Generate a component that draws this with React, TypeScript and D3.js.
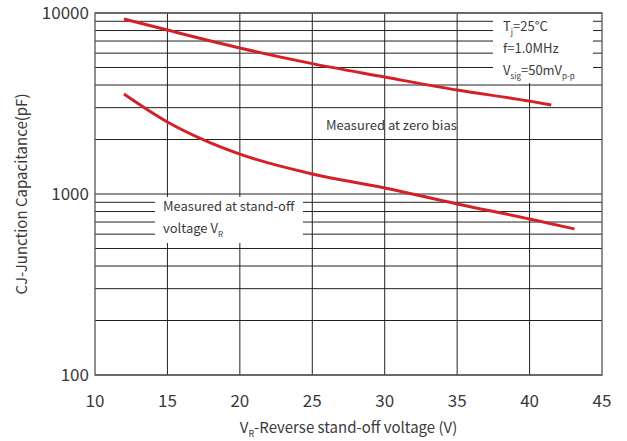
import React from "react";
import * as d3 from "d3";

const zeroBiasV = [12, 15, 20, 25, 30, 35, 40, 41.5];
const zeroBiasC = [9270, 8050, 6410, 5250, 4430, 3750, 3260, 3100];
const standOffV = [12, 15, 17.5, 20, 25, 30, 35, 40, 43.1];
const standOffC = [3570, 2500, 1990, 1660, 1290, 1080, 881, 728, 641];
const xTicks = [10, 15, 20, 25, 30, 35, 40, 45];
const yTicks = [100, 1000, 10000];

const W = 627, H = 441;
const left = 95, right = 602, top = 13, bottom = 375;
const FONT = "'Noto Sans CJK SC', 'Noto Sans', sans-serif";
const TXT = "#3a3a3a";

export default function App() {
  const x = d3.scaleLinear().domain([10, 45]).range([left, right]);
  const y = d3.scaleLog().domain([100, 10000]).range([bottom, top]);
  const minor: number[] = [];
  for (const dec of [100, 1000]) for (let k = 2; k <= 9; k++) minor.push(dec * k);
  const line = d3
    .line<[number, number]>()
    .x((d) => x(d[0]))
    .y((d) => y(d[1]))
    .curve(d3.curveMonotoneX);
  const zb = zeroBiasV.map((v, i) => [v, zeroBiasC[i]] as [number, number]);
  const so = standOffV.map((v, i) => [v, standOffC[i]] as [number, number]);

  return (
    <svg width={W} height={H} style={{ position: "absolute", left: 0, top: 0, background: "#fff" }} fontFamily={FONT}>
      {[...minor, ...yTicks].map((v) => (
        <line key={"h" + v} x1={left} x2={right} y1={y(v)} y2={y(v)} stroke="#222" strokeWidth={1} />
      ))}
      {xTicks.slice(1, -1).map((v) => (
        <line key={"v" + v} x1={x(v)} x2={x(v)} y1={top} y2={bottom} stroke="#222" strokeWidth={1} />
      ))}
      <rect x={left} y={top} width={right - left} height={bottom - top} fill="none" stroke="#555" strokeWidth={1.3} />

      <rect x={493} y={top + 1} width={100} height={69} fill="#fff" />
      <rect x={155} y={197} width={148} height={46} fill="#fff" />

      <path d={line(zb) || ""} fill="none" stroke="#d42128" strokeWidth={3} />
      <path d={line(so) || ""} fill="none" stroke="#d42128" strokeWidth={3} />

      <g fill={TXT} fontSize={13}>
        <text x={503} y={31}>
          T<tspan fontSize={8} dy={4}>j</tspan>
          <tspan dy={-4}>=25°C</tspan>
        </text>
        <text x={503} y={53}>f=1.0MHz</text>
        <text x={503} y={75}>
          V<tspan fontSize={8} dy={4}>sig</tspan>
          <tspan dy={-4}>=50mV</tspan>
          <tspan fontSize={8} dy={4}>p-p</tspan>
        </text>
        <text x={326} y={130}>Measured at zero bias</text>
        <text x={163} y={211}>Measured at stand-off</text>
        <text x={163} y={233}>
          voltage V<tspan fontSize={8} dy={4}>R</tspan>
        </text>
      </g>

      <g fill={TXT} fontSize={17}>
        {yTicks.map((v) => (
          <text key={"yt" + v} x={left - 6} y={y(v) + 6} textAnchor="end">
            {v}
          </text>
        ))}
        {xTicks.map((v) => (
          <text key={"xt" + v} x={x(v)} y={407} textAnchor="middle">
            {v}
          </text>
        ))}
      </g>
      <text
        fill={TXT}
        fontSize={15}
        transform={`translate(27,${(top + bottom) / 2}) rotate(-90)`}
        textAnchor="middle"
      >
        CJ-Junction Capacitance(pF)
      </text>
      <text fill={TXT} fontSize={15} x={(left + right) / 2} y={433} textAnchor="middle">
        V<tspan fontSize={9} dy={4}>R</tspan>
        <tspan dy={-4}>-Reverse stand-off voltage (V)</tspan>
      </text>
    </svg>
  );
}
